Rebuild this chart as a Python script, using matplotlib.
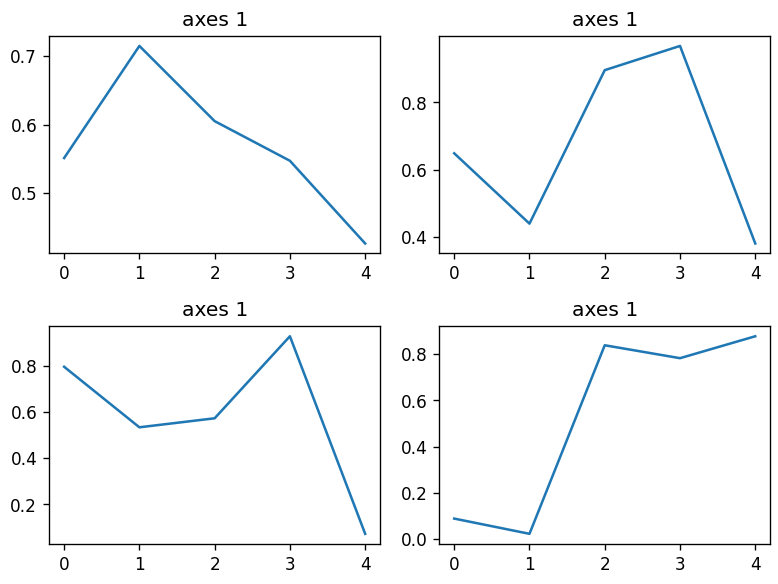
import matplotlib
matplotlib.use('Agg')
import matplotlib.pyplot as plt

x = [0, 1, 2, 3, 4]

# values
top_left = [0.551, 0.715, 0.605, 0.547, 0.426]
top_right = [0.649, 0.440, 0.896, 0.968, 0.381]
bottom_left = [0.796, 0.534, 0.573, 0.928, 0.073]
bottom_right = [0.088, 0.022, 0.839, 0.783, 0.878]

series = [top_left, top_right, bottom_left, bottom_right]
titles = ['axes 1', 'axes 1', 'axes 1', 'axes 1']

fig, axes = plt.subplots(2, 2, figsize=(6.4, 4.8), dpi=121.7)

for ax, y, title in zip(axes.flat, series, titles):
    ax.plot(x, y)
    ax.set_title(title)

# match the tight spacing of the reference
fig.subplots_adjust(left=0.063, right=0.989, bottom=0.069, top=0.938,
                    wspace=0.178, hspace=0.336)
fig.savefig('out.png')
